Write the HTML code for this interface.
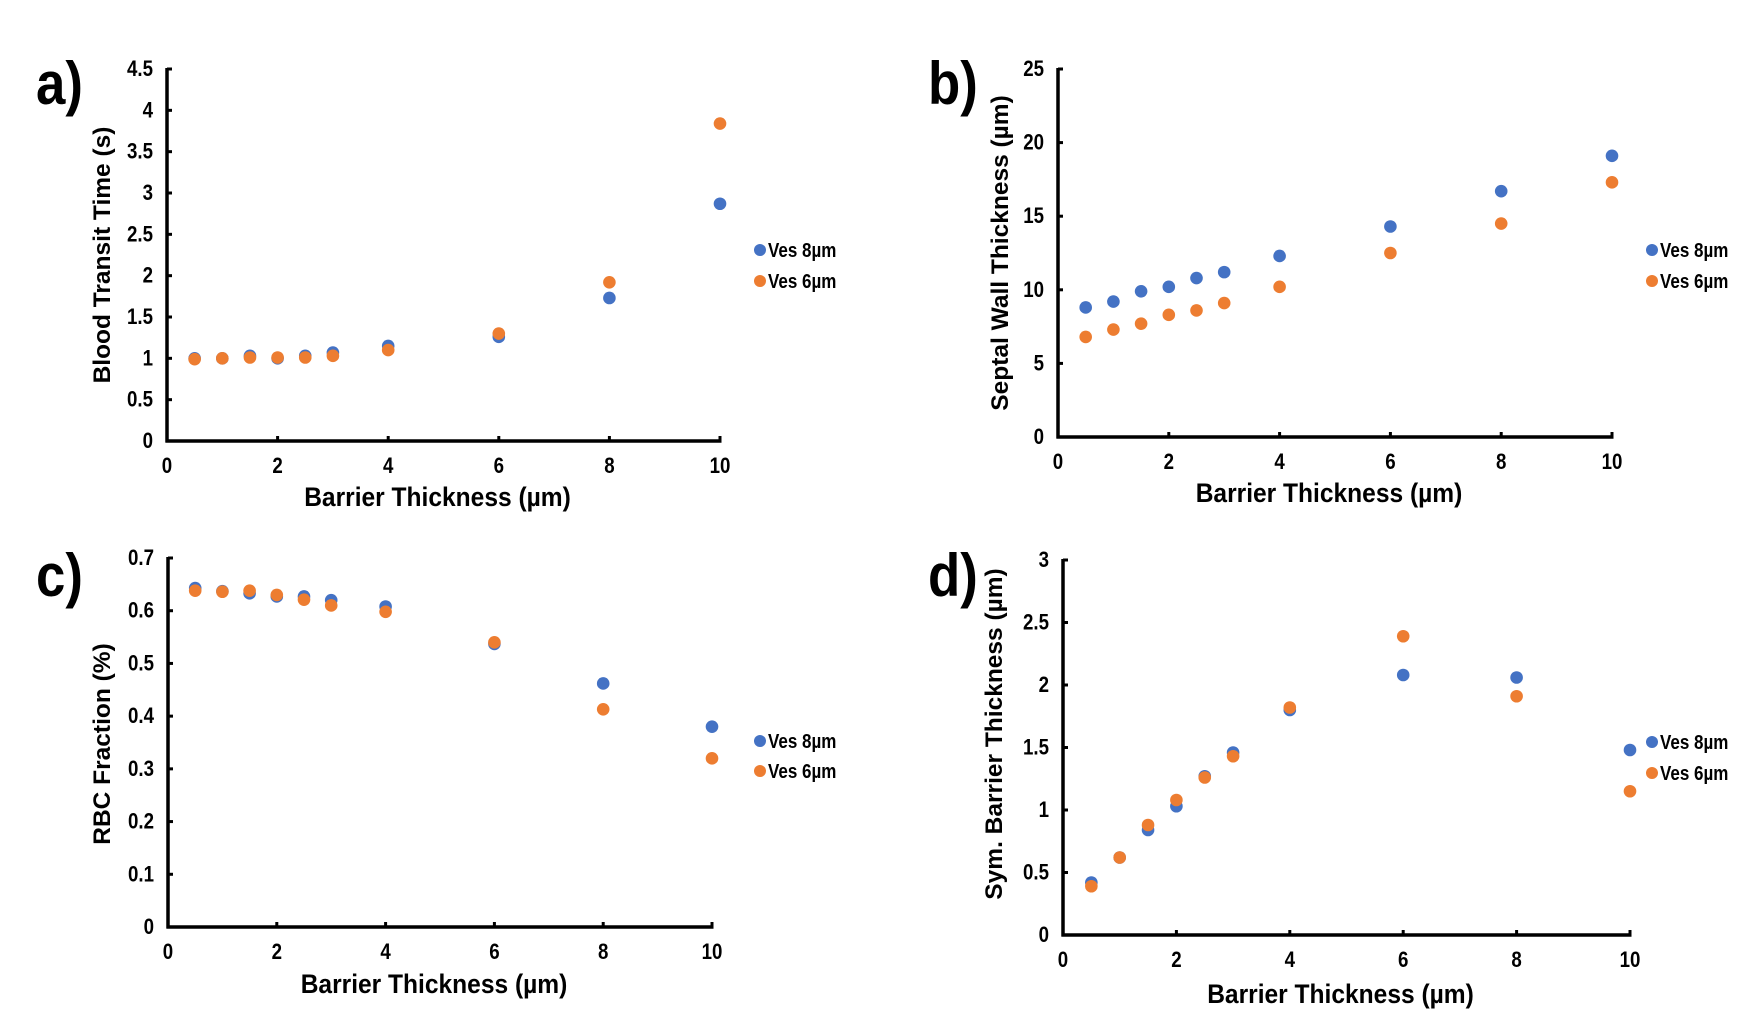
<!DOCTYPE html>
<html><head><meta charset="utf-8"><style>
html,body{margin:0;padding:0;background:#fff}
svg{display:block;font-family:"Liberation Sans",Arial,sans-serif;font-weight:bold}
</style></head><body>
<svg id="fig" width="1754" height="1028" viewBox="0 0 1754 1028" xmlns="http://www.w3.org/2000/svg"></svg>
<script>
const xValues = [0.5,1,1.5,2,2.5,3,4,6,8,10];
const xTicks = [0,2,4,6,8,10];
const seriesNames = ["Ves 8µm","Ves 6µm"];
const aBlue = [1.0,1.0,1.03,1.0,1.03,1.07,1.15,1.26,1.73,2.87];
const aOrange = [0.99,1.0,1.01,1.01,1.01,1.03,1.1,1.3,1.92,3.84];
const aTicks = ["0","0.5","1","1.5","2","2.5","3","3.5","4","4.5"];
const bBlue = [8.8,9.2,9.9,10.2,10.8,11.2,12.3,14.3,16.7,19.1];
const bOrange = [6.8,7.3,7.7,8.3,8.6,9.1,10.2,12.5,14.5,17.3];
const bTicks = ["0","5","10","15","20","25"];
const cBlue = [0.643,0.637,0.633,0.627,0.627,0.62,0.608,0.537,0.462,0.38];
const cOrange = [0.638,0.636,0.638,0.63,0.621,0.61,0.598,0.54,0.413,0.32];
const cTicks = ["0","0.1","0.2","0.3","0.4","0.5","0.6","0.7"];
const dBlue = [0.42,0.62,0.84,1.03,1.27,1.46,1.8,2.08,2.06,1.48];
const dOrange = [0.39,0.62,0.88,1.08,1.26,1.43,1.82,2.39,1.91,1.15];
const dTicks = ["0","0.5","1","1.5","2","2.5","3"];

const NS="http://www.w3.org/2000/svg";
const svg=document.getElementById('fig');
function el(tag,attrs,parent,text){const e=document.createElementNS(NS,tag);for(const k in attrs)e.setAttribute(k,attrs[k]);if(text!==undefined)e.textContent=text;(parent||svg).appendChild(e);return e;}
function ntext(x,y,size,anchor,sx,parent,text){return el('text',{x:0,y:0,'font-size':size,'text-anchor':anchor,transform:`translate(${x},${y}) scale(${sx},1)`},parent,text);}

const panels=[
 {id:'a',letter:'a)',L:167,R:720,T:69,B:441,ymax:4.5,ticks:aTicks,blue:aBlue,orange:aOrange,ytitle:'Blood Transit Time (s)',ytx:102,yty:255,xty:506,lx:36,ly:104,legx:760,legy:[250,281]},
 {id:'b',letter:'b)',L:1058,R:1612,T:69,B:437,ymax:25,ticks:bTicks,blue:bBlue,orange:bOrange,ytitle:'Septal Wall Thickness (µm)',ytx:1000,yty:253,xty:502,lx:928,ly:104,legx:1652,legy:[250,281]},
 {id:'c',letter:'c)',L:168,R:712,T:558,B:927,ymax:0.7,ticks:cTicks,blue:cBlue,orange:cOrange,ytitle:'RBC Fraction (%)',ytx:102,yty:744,xty:993,lx:36,ly:596,legx:760,legy:[741,771]},
 {id:'d',letter:'d)',L:1063,R:1630,T:560,B:935,ymax:3,ticks:dTicks,blue:dBlue,orange:dOrange,ytitle:'Sym. Barrier Thickness (µm)',ytx:994,yty:734,xty:1003,lx:928,ly:596,legx:1652,legy:[742,773]}
];
const colors=['#4472C4','#ED7D31'];
panels.forEach(p=>{
 const g=el('g',{});
 
 
 const xs=v=>p.L+(v-0)/(10-0)*(p.R-p.L);
 const ys=v=>p.B-v/p.ymax*(p.B-p.T);
 const lt=ntext(p.lx,p.ly,60,'start',0.88,g,p.letter);
 
 
 const ya=el('line',{x1:p.L,y1:p.T-1,x2:p.L,y2:p.B+1.5,stroke:'#000','stroke-width':3.5},g);
 
 
 const xa=el('line',{x1:p.L-1.5,y1:p.B,x2:p.R+1.5,y2:p.B,stroke:'#000','stroke-width':3.5},g);
 
 
 const step=p.ymax/(p.ticks.length-1);
 p.ticks.forEach((t,i)=>{
  const y=ys(i*step);
  el('line',{x1:p.L,y1:y,x2:p.L+5,y2:y,stroke:'#000','stroke-width':3},g);
  const tt=ntext(p.L-14,y+7,22,'end',0.85,g,t);
  
  
 });
 xTicks.forEach(t=>{
  const x=xs(t);
  el('line',{x1:x,y1:p.B,x2:x,y2:p.B-5,stroke:'#000','stroke-width':3},g);
  const tt=ntext(x,p.B+32,22,'middle',0.85,g,String(t));
  
  
 });
 const xt=ntext((p.L+p.R)/2-6,p.xty,27,'middle',0.91,g,'Barrier Thickness (µm)');
 
 
 const yt=el('text',{x:0,y:0,'font-size':24.5,'text-anchor':'middle',transform:`translate(${p.ytx+8},${p.yty}) rotate(-90)`},g,p.ytitle);
 
 
 [p.blue,p.orange].forEach((arr,si)=>{
  arr.forEach((v,i)=>{
   const c=el('circle',{cx:xs(xValues[i]),cy:ys(v),r:6.3,fill:colors[si]},g);
   
   
  });
  const lc=el('circle',{cx:p.legx,cy:p.legy[si],r:6,fill:colors[si]},g);
  
  
  const lt2=ntext(p.legx+8,p.legy[si]+7,20,'start',0.85,g,seriesNames[si]);
  
  
 });
});
</script>
</body></html>
